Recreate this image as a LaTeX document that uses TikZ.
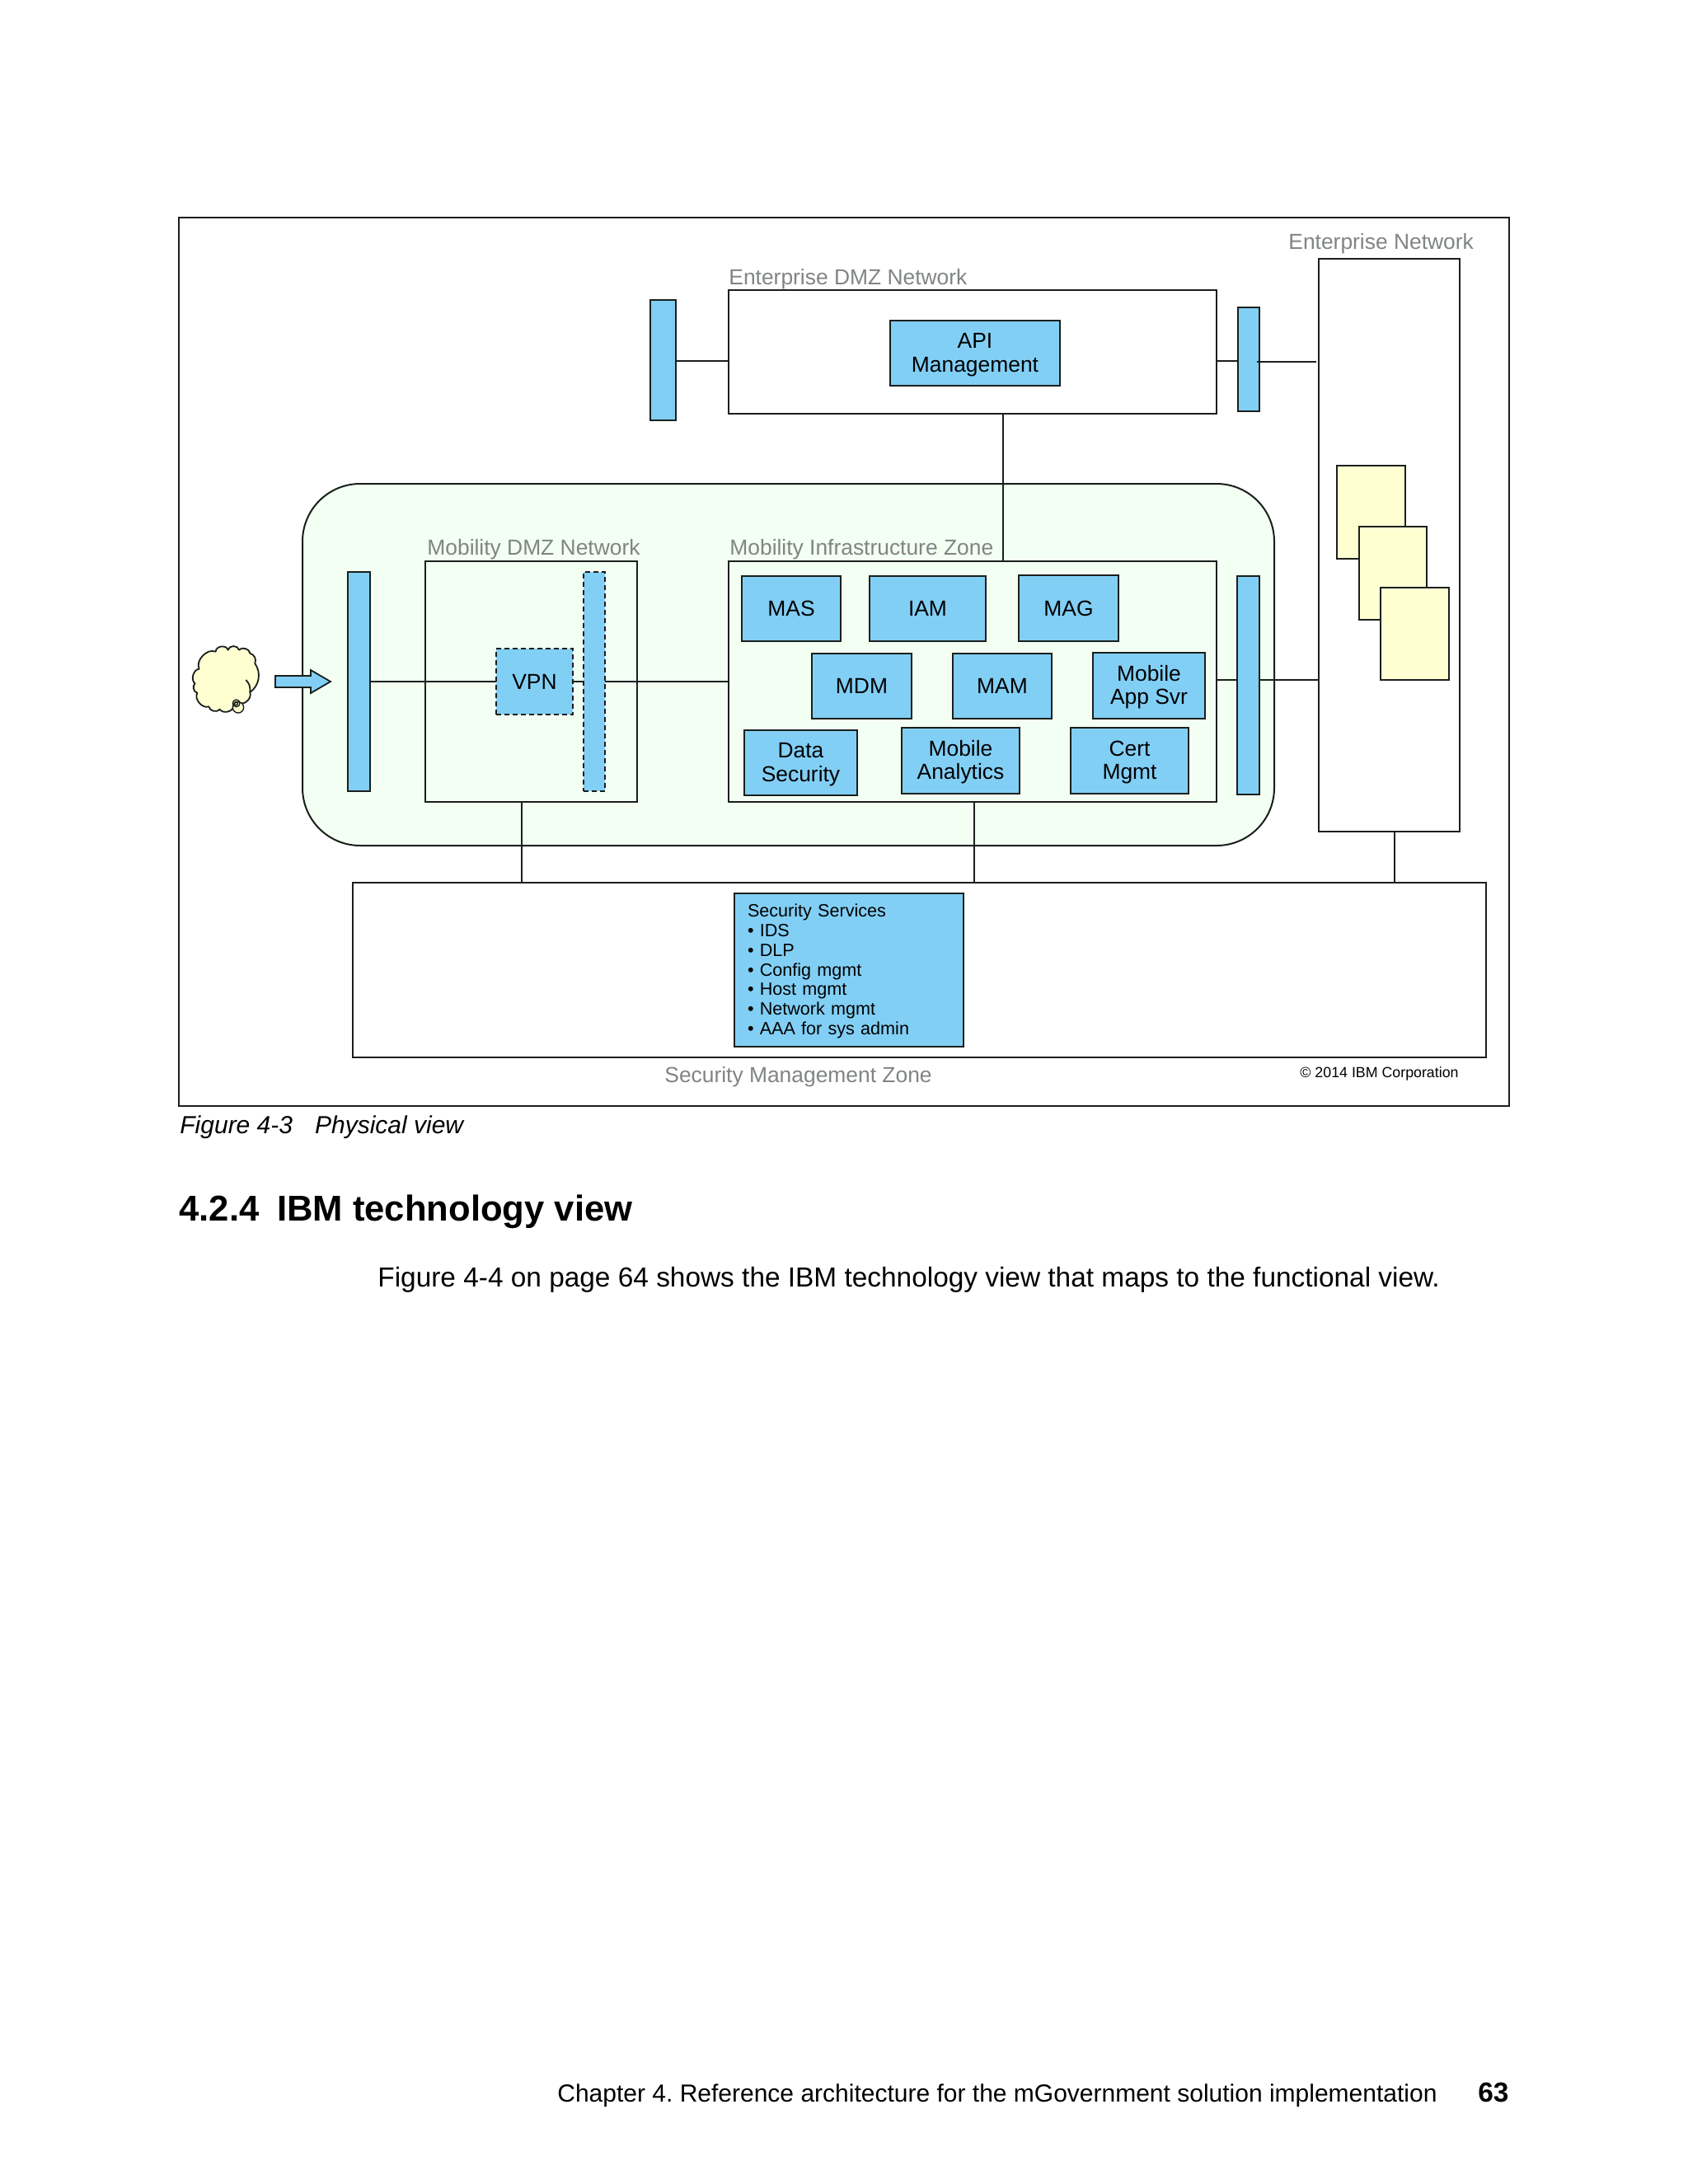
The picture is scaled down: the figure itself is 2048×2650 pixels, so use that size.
\documentclass[tikz,border=0pt]{standalone}
\usepackage{fontspec}
\setmainfont{Liberation Sans}
\definecolor{netblue}{HTML}{82CFF5}
\definecolor{zonegreen}{HTML}{F3FFF3}
\definecolor{noteyellow}{HTML}{FFFFD2}
\definecolor{labelgray}{HTML}{808582}
\definecolor{linedark}{HTML}{1A1F1C}
\frenchspacing
\newcommand\bx[7][]{%
  \pgfmathsetmacro\bxw{(#5-#3)*0.5}%
  \pgfmathsetmacro\bxh{(#6-#4)*0.5}%
  \node[shapebox,#1,minimum width=\bxw pt,minimum height=\bxh pt] (#2) at ({(#3+#5)/2},{(#4+#6)/2}) {#7};%
}
\newcommand\firstln{\rule{0pt}{11.3pt}}
\tikzset{
  shapebox/.style={draw=linedark,line width=1pt,inner sep=0pt,outer sep=0pt,align=center,
    font=\fontsize{13.2}{14.2}\selectfont},
  whitebox/.style={fill=white},
  zonebox/.style={fill=zonegreen},
  bluebox/.style={fill=netblue},
  dashbox/.style={fill=netblue,dashed,dash pattern=on 3pt off 2pt},
  notebox/.style={fill=noteyellow},
  link/.style={draw=linedark,line width=0.9pt},
  zonelabel/.style={anchor=base west,inner sep=0pt,text=labelgray,font=\fontsize{13.2}{16}\selectfont},
  pagetext/.style={anchor=base west,inner sep=0pt,font=\fontsize{16.7}{20}\selectfont},
}
\begin{document}
\begin{tikzpicture}[x=0.5pt,y=-0.5pt]
\useasboundingbox[fill=white] (0,0) rectangle (2048,2650);
% outer frame
\bx[whitebox,line width=0.7pt]{frame}{217}{264}{1831}{1342}{}
% mobility zone
\bx[zonebox,rounded corners=35pt]{mobzone}{367}{587}{1546}{1026}{}
% containers
\bx[whitebox]{edmz}{884}{352}{1476}{502}{}
\bx[whitebox]{entnet}{1600}{314}{1771}{1009}{}
\bx[zonebox]{mdmz}{516}{681}{773}{973}{}
\bx[zonebox]{infra}{884}{681}{1476}{973}{}
\bx[whitebox]{secz}{428}{1071}{1803}{1283}{}
% yellow sheets
\bx[notebox]{sheeta}{1622}{565}{1705}{678}{}
\bx[notebox]{sheetb}{1649}{639}{1731}{752}{}
\bx[notebox]{sheetc}{1675}{713}{1758}{825}{}
% bars
\bx[bluebox]{bartl}{789}{364}{820}{510}{}
\bx[bluebox]{bartr}{1502}{373}{1528}{499}{}
\bx[bluebox]{barin}{422}{694}{449}{960}{}
\bx[dashbox]{barvpn}{708}{694}{734}{960}{}
\bx[bluebox]{barout}{1501}{699}{1528}{964}{}
% components
\bx[bluebox]{api}{1080}{389}{1286}{468}{\firstln API\\Management}
\bx[dashbox]{vpn}{602}{787}{695}{867}{VPN}
\bx[bluebox]{mas}{900}{699}{1020}{778}{MAS}
\bx[bluebox]{iam}{1055}{699}{1196}{778}{IAM}
\bx[bluebox]{mag}{1236}{698}{1357}{778}{MAG}
\bx[bluebox]{mdm}{985}{793}{1106}{872}{MDM}
\bx[bluebox]{mam}{1156}{793}{1276}{872}{MAM}
\bx[bluebox]{appsvr}{1326}{792}{1462}{872}{\firstln Mobile\\App Svr}
\bx[bluebox]{datasec}{903}{886}{1040}{965}{\firstln Data\\Security}
\bx[bluebox]{analytics}{1094}{883}{1237}{963}{\firstln Mobile\\Analytics}
\bx[bluebox]{cert}{1299}{883}{1442}{963}{\firstln Cert\\Mgmt}
\bx[bluebox,text width=123pt,inner xsep=8pt,align=left,font=\fontsize{10.8}{11.9}\selectfont]{secsvc}{891}{1084}{1169}{1270}{\rule{0pt}{9.4pt}Security Services\\• IDS\\• DLP\\• Config mgmt\\• Host mgmt\\• Network mgmt\\• AAA for sys admin}
% helper coordinates for connectors
\coordinate (ytop) at (0,438);
\coordinate (yout) at (0,825);
\coordinate (xup) at (1217,0);
\coordinate (xsa) at (633,0);
\coordinate (xsb) at (1182,0);
\coordinate (xsc) at (1692,0);
\coordinate (tr1) at (1525,439);
\coordinate (tr2) at (1597,439);
% connectors
\draw[link] (bartl.east |- ytop) -- (edmz.west |- ytop);
\draw[link] (edmz.east |- ytop) -- (bartr.west |- ytop);
\draw[link] (tr1) -- (tr2);
\draw[link] (edmz.south -| xup) -- (infra.north -| xup);
\draw[link] (barin.east) -- (vpn.west);
\draw[link] (vpn.east) -- (barvpn.west);
\draw[link] (barvpn.east) -- (infra.west |- barvpn.east);
\draw[link] (infra.east |- yout) -- (barout.west |- yout);
\draw[link] (barout.east |- yout) -- (entnet.west |- yout);
\draw[link] (mdmz.south -| xsa) -- (secz.north -| xsa);
\draw[link] (infra.south -| xsb) -- (secz.north -| xsb);
\draw[link] (entnet.south -| xsc) -- (secz.north -| xsc);
% internet cloud
\begin{scope}[shift={(220,770)},x=0.16667pt,y=-0.16667pt]
  \draw[line width=0.9pt,draw=linedark,fill=noteyellow,line join=round]
    (125,62) to[bend left=80,looseness=1.2] (170,56) to[bend left=80,looseness=1.2] (210,56) to[bend left=70] (250,68)
    to[bend left=50] (268,105) to[bend left=45] (250,210) to[bend left=60] (215,250)
    to[bend left=30] (190,262) to[bend left=70] (140,272) to[bend left=70] (100,262)
    to[bend left=70] (58,212) to[bend left=70] (50,178) to[bend left=70] (65,125)
    to[bend left=70] cycle;
  \draw[line width=0.9pt,draw=linedark] (235,165) to[bend left=25] (250,210);
  \draw[line width=0.7pt,draw=linedark,fill=noteyellow] (207,265) circle[radius=20];
  \draw[line width=0.7pt,draw=linedark] (200,250) circle[radius=13];
  \draw[line width=0.7pt,draw=linedark] (199,251) circle[radius=6];
\end{scope}
% entry arrow
\draw[line width=0.9pt,draw=linedark,fill=netblue] (334,820) -- (377,820) -- (377,813) -- (401,827) -- (377,841) -- (377,834) -- (334,834) -- cycle;
% zone labels
\node[zonelabel] (lblent) at (1563,302) {Enterprise Network};
\node[zonelabel] (lbledmz) at (884,345) {Enterprise DMZ Network};
\node[zonelabel] (lblmdmz) at (518,673) {Mobility DMZ Network};
\node[zonelabel] (lblinfra) at (885,673) {Mobility Infrastructure Zone};
\node[zonelabel] (lblsec) at (806,1313) {Security Management Zone};
\node[anchor=base west,inner sep=0pt,font=\fontsize{8.9}{10}\selectfont] (copy) at (1577,1307) {© 2014 IBM Corporation};
% page text
\node[pagetext,font=\fontsize{15}{18}\selectfont\itshape] (cap) at (218,1375) {Figure 4-3\hspace{0.9em}Physical view};
\node[pagetext,font=\fontsize{21.8}{26}\selectfont\bfseries] (head) at (217,1481) {4.2.4\hspace{0.5em}IBM technology view};
\node[pagetext] (body) at (458,1561) {Figure 4-4 on page 64 shows the IBM technology view that maps to the functional view.};
\node[pagetext,font=\fontsize{15}{18}\selectfont] (foot) at (676,2550) {Chapter 4. Reference architecture for the mGovernment solution implementation};
\node[pagetext,font=\fontsize{16.7}{20}\selectfont\bfseries] (pnum) at (1793,2550) {63};
\end{tikzpicture}
\end{document}
